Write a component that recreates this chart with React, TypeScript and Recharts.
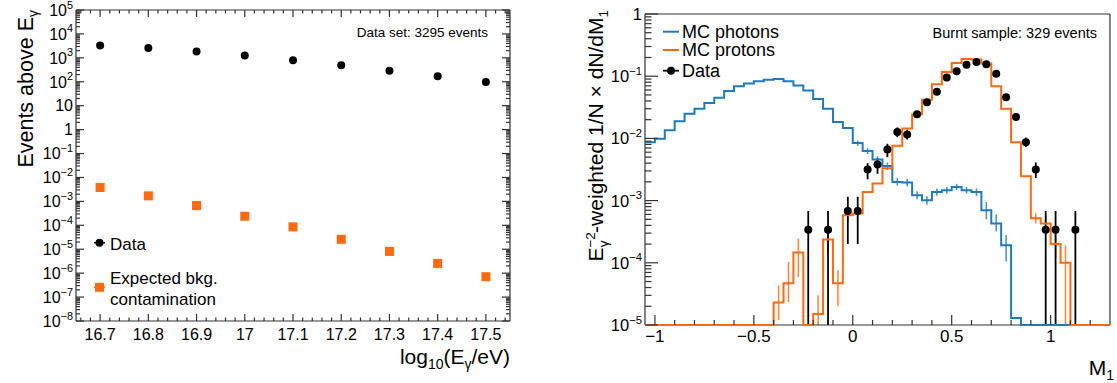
import React from "react";
import { ComposedChart, Line, Scatter, ErrorBar, XAxis, YAxis } from "recharts";

// ---------- left panel: integral counts above energy threshold ----------
const energy = [16.7, 16.8, 16.9, 17.0, 17.1, 17.2, 17.3, 17.4, 17.5];
const eventsAbove = [3295, 2600, 1850, 1250, 800, 490, 290, 170, 98];
const bkgExpected = [3.8e-3, 1.7e-3, 6.7e-4, 2.4e-4, 8.6e-5, 2.6e-5, 8.1e-6, 2.55e-6, 7.1e-7];
const energyTickLabels = ["16.7", "16.8", "16.9", "17", "17.1", "17.2", "17.3", "17.4", "17.5"];

// ---------- right panel: M1 distributions ----------
const binLow = [
  -1.05, -1.0, -0.95, -0.9, -0.85, -0.8, -0.75, -0.7, -0.65, -0.6, -0.55, -0.5, -0.45, -0.4, -0.35, -0.3,
  -0.25, -0.2, -0.15, -0.1, -0.05, 0, 0.05, 0.1, 0.15, 0.2, 0.25, 0.3, 0.35, 0.4, 0.45, 0.5, 0.55, 0.6,
  0.65, 0.7, 0.75, 0.8, 0.85, 0.9, 0.95, 1.0, 1.05, 1.1, 1.15, 1.2, 1.25,
];
const lastBinHigh = 1.3;
const photonMC = [
  8.7e-3, 9.9e-3, 1.35e-2, 1.88e-2, 2.5e-2, 3.0e-2, 3.7e-2, 4.5e-2, 5.8e-2, 6.9e-2, 7.6e-2, 8.3e-2, 8.8e-2,
  9.0e-2, 8.3e-2, 7.1e-2, 5.9e-2, 4.3e-2, 3.0e-2, 1.84e-2, 1.47e-2, 8.4e-3, 6.3e-3, 4.6e-3, 3.6e-3, 2.0e-3,
  1.95e-3, 1.22e-3, 1.01e-3, 1.37e-3, 1.47e-3, 1.66e-3, 1.47e-3, 1.37e-3, 7.0e-4, 4.3e-4, 1.91e-4, 1.3e-5,
  1e-5, 1e-5, 1e-5, 1e-5, 1e-5, 1e-5, 1e-5, 1e-5, 1e-5,
];
const protonMC = [
  1e-5, 1e-5, 1e-5, 1e-5, 1e-5, 1e-5, 1e-5, 1e-5, 1e-5, 1e-5, 1e-5, 1e-5, 1e-5, 2.3e-5, 4.7e-5, 1.46e-4,
  1e-5, 1.5e-5, 2.36e-4, 4.7e-5, 5.8e-4, 6.2e-4, 1.37e-3, 1.88e-3, 3.3e-3, 7.6e-3, 1.44e-2, 2.44e-2, 4.2e-2,
  7.4e-2, 0.117, 0.163, 0.189, 0.186, 0.16, 6.9e-2, 3.0e-2, 8.7e-3, 2.46e-3, 5.2e-4, 4.3e-4, 2.0e-4, 1.0e-4,
  1e-5, 1e-5, 1e-5, 1e-5,
];
const photonErrM1 = [0.025, 0.075, 0.125, 0.175, 0.225, 0.275, 0.325, 0.375, 0.425, 0.475, 0.525, 0.575, 0.625, 0.675, 0.725, 0.775];
const photonErrVal = [8.4e-3, 6.3e-3, 4.6e-3, 3.6e-3, 2.0e-3, 1.95e-3, 1.22e-3, 1.01e-3, 1.37e-3, 1.47e-3, 1.66e-3, 1.47e-3, 1.37e-3, 7.0e-4, 4.3e-4, 1.91e-4];
const photonErrLo = [7.6e-3, 5.6e-3, 4.0e-3, 3.1e-3, 1.75e-3, 1.7e-3, 1.05e-3, 8.6e-4, 1.2e-3, 1.3e-3, 1.48e-3, 1.3e-3, 1.18e-3, 5.0e-4, 3.2e-4, 1.05e-4];
const photonErrHi = [9.2e-3, 7.0e-3, 5.2e-3, 4.1e-3, 2.3e-3, 2.25e-3, 1.42e-3, 1.18e-3, 1.56e-3, 1.66e-3, 1.86e-3, 1.66e-3, 1.58e-3, 9.5e-4, 6.0e-4, 2.8e-4];
const protonErrM1 = [-0.375, -0.325, -0.275, -0.175, -0.125, -0.075, -0.025, 0.025, 0.925, 0.975, 1.025, 1.075];
const protonErrVal = [2.3e-5, 4.7e-5, 1.46e-4, 1.5e-5, 2.36e-4, 4.7e-5, 5.8e-4, 6.2e-4, 5.2e-4, 4.3e-4, 2.0e-4, 1.0e-4];
const protonErrLo = [1.2e-5, 2.35e-5, 5.9e-5, 1.0e-5, 1.5e-4, 2.0e-5, 4.5e-4, 5.0e-4, 4.3e-4, 3.2e-4, 1.2e-4, 1.0e-5];
const protonErrHi = [4.3e-5, 1.03e-4, 2.45e-4, 3.0e-5, 3.3e-4, 7.6e-5, 7.0e-4, 7.4e-4, 6.2e-4, 5.5e-4, 3.0e-4, 1.9e-4];
const dataM1 = [
  -0.225, -0.125, -0.025, 0.025, 0.075, 0.125, 0.175, 0.225, 0.275, 0.325, 0.375, 0.425, 0.475, 0.525, 0.575,
  0.625, 0.675, 0.725, 0.775, 0.825, 0.875, 0.925, 0.975, 1.025, 1.125,
];
const dataVal = [
  3.4e-4, 3.4e-4, 6.8e-4, 6.8e-4, 3.15e-3, 3.8e-3, 6.6e-3, 1.27e-2, 1.16e-2, 2.44e-2, 3.8e-2, 5.6e-2, 9.5e-2,
  0.12, 0.153, 0.169, 0.155, 0.11, 4.6e-2, 2.2e-2, 8.7e-3, 3.15e-3, 3.4e-4, 3.4e-4, 3.4e-4,
];
const dataLo = [
  1e-5, 1e-5, 2.0e-4, 2.0e-4, 2.2e-3, 2.7e-3, 5.0e-3, 1.05e-2, 9.6e-3, 2.15e-2, 3.45e-2, 5.2e-2, 8.9e-2,
  0.113, 0.145, 0.161, 0.147, 0.103, 4.2e-2, 1.95e-2, 7.3e-3, 2.3e-3, 1e-5, 1e-5, 1e-5,
];
const dataHi = [
  6.8e-4, 6.8e-4, 1.15e-3, 1.15e-3, 4.0e-3, 4.8e-3, 8.2e-3, 1.5e-2, 1.38e-2, 2.75e-2, 4.2e-2, 6.0e-2, 0.101,
  0.127, 0.161, 0.177, 0.163, 0.117, 5.0e-2, 2.45e-2, 1.03e-2, 4.1e-3, 6.8e-4, 6.8e-4, 6.8e-4,
];
const m1Ticks = [-1, -0.5, 0, 0.5, 1];
const m1TickLabels = ["\u22121", "\u22120.5", "0", "0.5", "1"];

// ---------- styling ----------
const FONT = "'Liberation Sans', Arial, Helvetica, sans-serif";
const ORANGE = "#ff6a10";
const BLUE = "#1f7bbd";
const FRAME = "#333";

const idxOf = (list: number[], v: number) => list.findIndex((m) => Math.abs(m - v) < 1e-9);
const isDecade = (v: number) => Math.abs(Math.log10(v) - Math.round(Math.log10(v))) < 1e-6;

const stepTicks = (from: number, to: number, step: number) => {
  const out: number[] = [];
  for (let v = from; v <= to + 1e-9; v += step) out.push(Math.round(v * 1000) / 1000);
  return out;
};
const logTicks = (kMin: number, kMax: number) => {
  const out: number[] = [];
  for (let k = kMin; k <= kMax; k++) {
    out.push(Math.pow(10, k));
    if (k < kMax) for (let m = 2; m <= 9; m++) out.push(m * Math.pow(10, k));
  }
  return out;
};

const PowerText = ({ x, y, v, fs, plainTen }: any) => {
  const k = Math.round(Math.log10(v));
  const common = { x, y, textAnchor: "end" as const, fontSize: fs, fill: "#000", fontFamily: FONT };
  if (k === 0) return <text {...common}>1</text>;
  if (k === 1 && plainTen) return <text {...common}>10</text>;
  return (
    <text {...common}>
      10
      <tspan dy={-0.45 * fs} fontSize={fs * 0.68}>
        {k < 0 ? `\u2212${-k}` : `${k}`}
      </tspan>
    </text>
  );
};

// tick renderers (all ticks point into the frame, like ROOT)
const bottomTick = (majors: number[], labels: string[] | null, len: number, minorLen: number, fs: number, dy: number) =>
  (p: any) => {
    const i = idxOf(majors, p.payload.value);
    const major = i >= 0;
    return (
      <g>
        <line x1={p.x} x2={p.x} y1={p.y} y2={p.y - (major ? len : minorLen)} stroke={FRAME} strokeWidth={1.2} />
        {major && labels && (
          <text x={p.x} y={p.y + dy} textAnchor="middle" fontSize={fs} fontFamily={FONT} fill="#000">
            {labels[i]}
          </text>
        )}
      </g>
    );
  };
const topTick = (majors: number[], len: number, minorLen: number) => (p: any) => {
  const major = idxOf(majors, p.payload.value) >= 0;
  return <line x1={p.x} x2={p.x} y1={p.y} y2={p.y + (major ? len : minorLen)} stroke={FRAME} strokeWidth={1.2} />;
};
const leftLogTick = (len: number, minorLen: number, fs: number, plainTen: boolean) => (p: any) => {
  const major = isDecade(p.payload.value);
  return (
    <g>
      <line x1={p.x} x2={p.x + (major ? len : minorLen)} y1={p.y} y2={p.y} stroke={FRAME} strokeWidth={1.2} />
      {major && <PowerText x={p.x - 3} y={p.y + fs * 0.36} v={p.payload.value} fs={fs} plainTen={plainTen} />}
    </g>
  );
};
const rightLogTick = (len: number, minorLen: number) => (p: any) => {
  const major = isDecade(p.payload.value);
  return <line x1={p.x} x2={p.x - (major ? len : minorLen)} y1={p.y} y2={p.y} stroke={FRAME} strokeWidth={1.2} />;
};

const Dot = (r: number, color: string) => (p: any) => <circle cx={p.cx} cy={p.cy} r={r} fill={color} />;
const Square = (s: number, color: string) => (p: any) => (
  <rect x={p.cx - s / 2} y={p.cy - s / 2} width={s} height={s} fill={color} />
);
const NoMark = () => <g />;

// axes get 1px of room (a 0-sized axis is not drawn); ticks are drawn by the custom renderers
const axisCommon = { tickSize: 0, tickMargin: 0, tickLine: false, interval: 0 as const, axisLine: { stroke: FRAME, strokeWidth: 1.2 } };

const LeftPanel = () => {
  const dataPts = energy.map((e, i) => ({ x: e, y: eventsAbove[i] }));
  const bkgPts = energy.map((e, i) => ({ x: e, y: bkgExpected[i] }));
  const xTicks = stepTicks(16.66, 17.54, 0.02);
  const yTicks = logTicks(-8, 5);
  return (
    <ComposedChart width={530} height={383} margin={{ top: 9, right: 19, bottom: 61, left: 75 }}>
      <XAxis xAxisId="b" type="number" dataKey="x" domain={[16.65, 17.55]} allowDataOverflow ticks={xTicks}
        height={1} {...axisCommon} tick={bottomTick(energy, energyTickLabels, 7, 3.5, 16, 19)} />
      <XAxis xAxisId="t" orientation="top" type="number" dataKey="x" domain={[16.65, 17.55]} allowDataOverflow
        ticks={xTicks} height={1} {...axisCommon} tick={topTick(energy, 7, 3.5)} />
      <YAxis yAxisId="l" type="number" dataKey="y" scale="log" domain={[1e-8, 1e5]} allowDataOverflow ticks={yTicks}
        width={1} {...axisCommon} tick={leftLogTick(8, 4, 16, true)} />
      <YAxis yAxisId="r" orientation="right" type="number" dataKey="y" scale="log" domain={[1e-8, 1e5]}
        allowDataOverflow ticks={yTicks} width={1} {...axisCommon} tick={rightLogTick(8, 4)} />
      <Scatter xAxisId="b" yAxisId="l" data={dataPts} shape={Dot(4, "#000")} isAnimationActive={false} />
      <Scatter xAxisId="b" yAxisId="l" data={bkgPts} shape={Square(9, ORANGE)} isAnimationActive={false} />
    </ComposedChart>
  );
};

const RightPanel = () => {
  const photonSteps = [...binLow.map((b, i) => ({ x: b, y: photonMC[i] })), { x: lastBinHigh, y: photonMC[photonMC.length - 1] }];
  const protonSteps = [...binLow.map((b, i) => ({ x: b, y: protonMC[i] })), { x: lastBinHigh, y: protonMC[protonMC.length - 1] }];
  const photonErr = photonErrM1.map((m, i) => ({ x: m, y: photonErrVal[i], err: [photonErrVal[i] - photonErrLo[i], photonErrHi[i] - photonErrVal[i]] }));
  const protonErr = protonErrM1.map((m, i) => ({ x: m, y: protonErrVal[i], err: [protonErrVal[i] - protonErrLo[i], protonErrHi[i] - protonErrVal[i]] }));
  const dataPts = dataM1.map((m, i) => ({ x: m, y: dataVal[i], err: [dataVal[i] - dataLo[i], dataHi[i] - dataVal[i]] }));
  const xTicks = stepTicks(-1, 1.2, 0.1);
  const yTicks = logTicks(-5, 0);
  return (
    <ComposedChart width={557} height={383} margin={{ top: 13, right: 6, bottom: 57, left: 84 }}>
      <XAxis xAxisId="b" type="number" dataKey="x" domain={[-1.05, 1.3]} ticks={xTicks}
        height={1} {...axisCommon} tick={bottomTick(m1Ticks, m1TickLabels, 10, 5, 17, 17)} />
      <XAxis xAxisId="t" orientation="top" type="number" dataKey="x" domain={[-1.05, 1.3]}
        ticks={xTicks} height={1} {...axisCommon} tick={topTick(m1Ticks, 10, 5)} />
      <YAxis yAxisId="l" type="number" dataKey="y" scale="log" domain={[1e-5, 1]} ticks={yTicks}
        width={1} {...axisCommon} tick={leftLogTick(13, 6.5, 16.5, false)} />
      <YAxis yAxisId="r" orientation="right" type="number" dataKey="y" scale="log" domain={[1e-5, 1]}
        ticks={yTicks} width={1} {...axisCommon} tick={rightLogTick(13, 6.5)} />
      <Line xAxisId="b" yAxisId="l" data={photonSteps} dataKey="y" type="stepAfter" stroke={BLUE} strokeWidth={2}
        dot={false} activeDot={false} isAnimationActive={false} zIndex={550} />
      <Scatter xAxisId="b" yAxisId="l" data={photonErr} shape={NoMark} isAnimationActive={false}>
        <ErrorBar dataKey="err" direction="y" width={0} stroke={BLUE} strokeWidth={1.6} strokeOpacity={0.8} />
      </Scatter>
      <Line xAxisId="b" yAxisId="l" data={protonSteps} dataKey="y" type="stepAfter" stroke={ORANGE} strokeWidth={2}
        dot={false} activeDot={false} isAnimationActive={false} zIndex={560} />
      <Scatter xAxisId="b" yAxisId="l" data={protonErr} shape={NoMark} isAnimationActive={false}>
        <ErrorBar dataKey="err" direction="y" width={0} stroke={ORANGE} strokeWidth={1.6} strokeOpacity={0.8} />
      </Scatter>
      <Scatter xAxisId="b" yAxisId="l" data={dataPts} shape={Dot(4, "#000")} isAnimationActive={false}>
        <ErrorBar dataKey="err" direction="y" width={0} stroke="#000" strokeWidth={1.8} />
      </Scatter>
    </ComposedChart>
  );
};

const Overlay = () => (
  <svg width={1117} height={383} style={{ position: "absolute", left: 0, top: 0, pointerEvents: "none" }}
    fontFamily={FONT} fill="#000">
    {/* left panel texts */}
    <text transform="translate(33,10) rotate(-90)" textAnchor="end" fontSize={21.5}>
      Events above E<tspan dy={5} fontSize={14}>γ</tspan>
    </text>
    <text x={510} y={364} textAnchor="end" fontSize={21}>
      log<tspan dy={5} fontSize={14}>10</tspan>
      <tspan dy={-5}>(E</tspan>
      <tspan dy={5} fontSize={14}>γ</tspan>
      <tspan dy={-5}>/eV)</tspan>
    </text>
    <text x={488} y={36.5} textAnchor="end" fontSize={13.5}>Data set: 3295 events</text>
    <line x1={94} x2={105} y1={242.7} y2={242.7} stroke="#000" strokeWidth={1.5} />
    <circle cx={99.5} cy={242.7} r={4} fill="#000" />
    <text x={110} y={250} fontSize={17}>Data</text>
    <line x1={94} x2={105} y1={287.3} y2={287.3} stroke={ORANGE} strokeWidth={1.5} />
    <rect x={95} y={282.8} width={9} height={9} fill={ORANGE} />
    <text x={110} y={284} fontSize={17}>Expected bkg.</text>
    <text x={110} y={305} fontSize={17}>contamination</text>

    {/* right panel texts */}
    <text transform="translate(603,10) rotate(-90)" textAnchor="end" fontSize={21}>
      E<tspan dy={-8} fontSize={13.5}>{"\u22122"}</tspan>
      <tspan dx={-15} dy={13} fontSize={13.5}>γ</tspan>
      <tspan dx={7.5} dy={-5}>-weighted 1/N × dN/dM</tspan>
      <tspan dy={5} fontSize={13.5}>1</tspan>
    </text>
    <text x={1114} y={375} textAnchor="end" fontSize={21}>
      M<tspan dy={5} fontSize={14}>1</tspan>
    </text>
    <text x={1097} y={37.5} textAnchor="end" fontSize={14.5}>Burnt sample: 329 events</text>
    <line x1={663} x2={679} y1={31.7} y2={31.7} stroke={BLUE} strokeWidth={2} />
    <text x={682} y={37.5} fontSize={18}>MC photons</text>
    <line x1={663} x2={679} y1={50} y2={50} stroke={ORANGE} strokeWidth={2} />
    <text x={682} y={56} fontSize={18}>MC protons</text>
    <line x1={663} x2={679} y1={70.7} y2={70.7} stroke="#000" strokeWidth={1.8} />
    <circle cx={671} cy={70.7} r={4} fill="#000" />
    <text x={682} y={76.5} fontSize={18}>Data</text>
  </svg>
);

export default function App() {
  return (
    <div style={{ position: "absolute", left: 0, top: 0, width: 1117, height: 383, background: "#fff", fontFamily: FONT }}>
      <div style={{ position: "absolute", left: 0, top: 0 }}>
        <LeftPanel />
      </div>
      <div style={{ position: "absolute", left: 560, top: 0 }}>
        <RightPanel />
      </div>
      <Overlay />
    </div>
  );
}
